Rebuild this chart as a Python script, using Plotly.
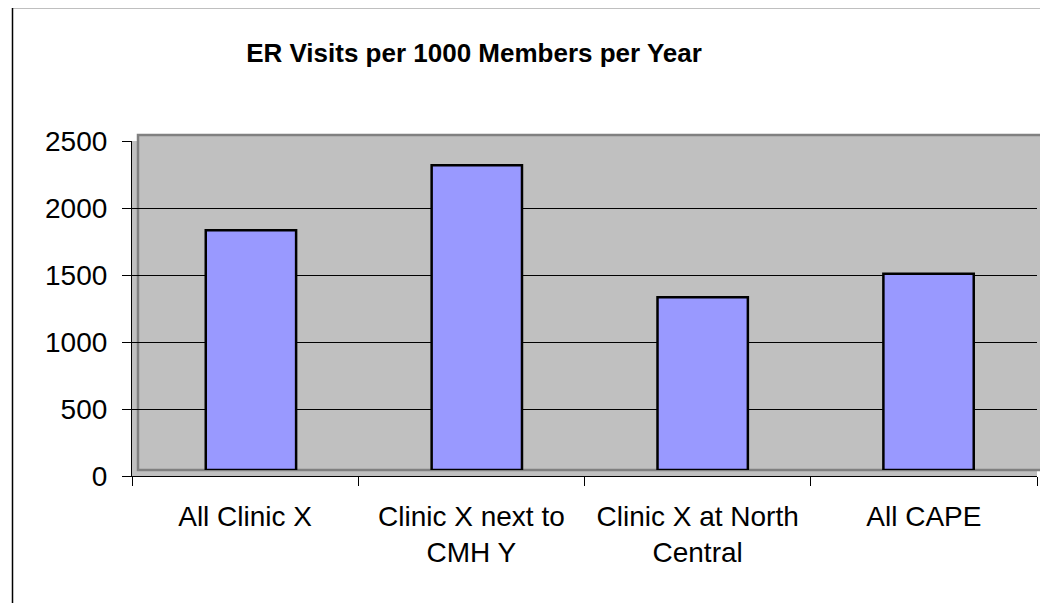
import plotly.graph_objects as go

categories = ["All Clinic X", "Clinic X next to<br>CMH Y", "Clinic X at North<br>Central", "All CAPE"]
values = [1790, 2275, 1290, 1465]
y_ticks = [0, 500, 1000, 1500, 2000, 2500]

# page body has an 8px margin; the figure fills the rest of the window
OFF = 8
W, H = 1048 - OFF, 603 - OFF
FONT = "Liberation Sans, Arial, sans-serif"


def px_x(x):
    return (x - OFF) / W


def px_y(y):
    return (H - (y - OFF)) / H


fig = go.Figure()

# invisible trace to give the front category axis its categories
fig.add_trace(go.Scatter(x=categories, y=values, mode="markers",
                         marker=dict(opacity=0), hoverinfo="skip",
                         showlegend=False, xaxis="x", yaxis="y"))

# bars drawn on the back-wall frame
fig.add_trace(go.Bar(x=categories, y=values, width=0.4,
                     marker=dict(color="#9999FF", line=dict(color="#000000", width=2.5)),
                     showlegend=False, xaxis="x2", yaxis="y2"))

shapes = [
    # front frame fill
    dict(type="rect", xref="paper", yref="paper", layer="below",
         x0=px_x(132), x1=px_x(1037), y0=px_y(476), y1=px_y(141),
         fillcolor="#C0C0C0", line=dict(width=0)),
    # back wall with border
    dict(type="rect", xref="paper", yref="paper", layer="below",
         x0=px_x(138), x1=px_x(1041.5), y0=px_y(470), y1=px_y(135),
         fillcolor="#C0C0C0", line=dict(color="#808080", width=2.5)),
    # outer chart border
    dict(type="rect", xref="paper", yref="paper", layer="above",
         x0=px_x(12.5), x1=px_x(1070), y0=px_y(630), y1=px_y(7.5),
         fillcolor="rgba(0,0,0,0)", line=dict(color="#000000", width=1.5)),
]

fig.update_layout(
    width=W, height=H,
    margin=dict(l=0, r=0, t=0, b=0, pad=0, autoexpand=False),
    paper_bgcolor="#FFFFFF",
    plot_bgcolor="rgba(0,0,0,0)",
    font=dict(family=FONT, color="#000000", size=28),
    title=dict(text="<b>ER Visits per 1000 Members per Year</b>",
               x=px_x(474), xanchor="center", xref="paper",
               y=px_y(53), yanchor="middle", yref="paper", automargin=False,
               font=dict(family=FONT, size=26, color="#000000")),
    xaxis=dict(domain=[px_x(132), px_x(1037)], anchor="y", automargin=False,
               type="category", categoryorder="array", categoryarray=categories,
               range=[-0.5, 3.5], showline=True, linecolor="#000000", linewidth=1.2,
               ticks="outside", tickson="boundaries", ticklen=9, tickcolor="#000000",
               tickwidth=1, showgrid=False, zeroline=False,
               tickfont=dict(family=FONT, size=28, color="#000000"),
               ticklabelstandoff=15),
    yaxis=dict(domain=[px_y(476), px_y(141)], anchor="x", automargin=False,
               range=[0, 2500], tickvals=y_ticks,
               showline=True, linecolor="#000000", linewidth=1.2,
               ticks="outside", ticklen=9, tickcolor="#000000", tickwidth=1,
               showgrid=True, gridcolor="#000000", gridwidth=1, zeroline=False,
               tickfont=dict(family=FONT, size=28, color="#000000"),
               ticklabelstandoff=9),
    xaxis2=dict(domain=[px_x(138), px_x(1041.5)], anchor="y2", automargin=False,
                type="category", categoryorder="array", categoryarray=categories,
                range=[-0.5, 3.5], visible=False),
    yaxis2=dict(domain=[px_y(470), px_y(135)], anchor="x2", automargin=False,
                range=[0, 2500], visible=False),
    shapes=shapes,
    bargap=0.6,
)

fig.write_html("out.html")
